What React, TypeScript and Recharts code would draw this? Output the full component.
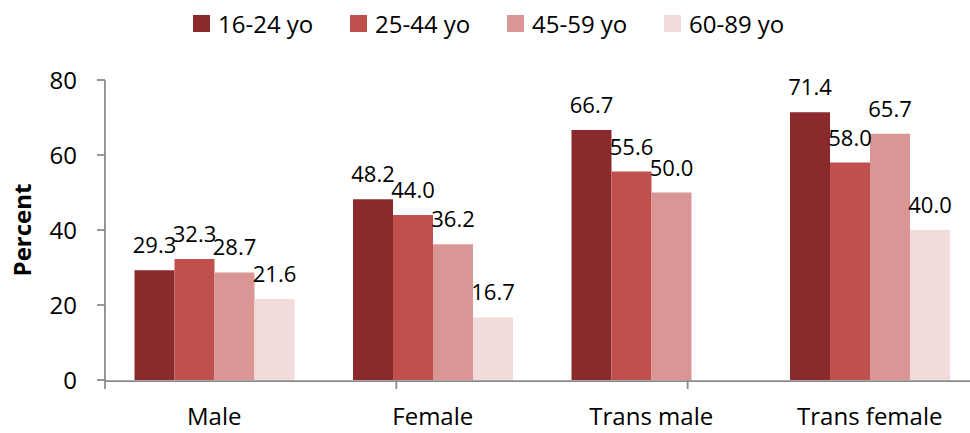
import React from 'react';
import { BarChart, Bar, XAxis, YAxis, Legend, LabelList } from 'recharts';

const categories = ['Male', 'Female', 'Trans male', 'Trans female'];
const age16to24 = [29.3, 48.2, 66.7, 71.4];
const age25to44 = [32.3, 44.0, 55.6, 58.0];
const age45to59 = [28.7, 36.2, 50.0, 65.7];
const age60to89: (number | null)[] = [21.6, 16.7, null, 40.0];
const seriesNames = ['16-24 yo', '25-44 yo', '45-59 yo', '60-89 yo'];
const yTicks = [0, 20, 40, 60, 80];
const boundaryTicks = [0, 1, 2, 3];

const colors = ['#8B2A2C', '#C0504D', '#D99694', '#F2DCDB'];
const FONT = '"Open Sans", sans-serif';
const AXIS = '#898989';

const data = categories.map((c, i) => ({
  name: c,
  s0: age16to24[i],
  s1: age25to44[i],
  s2: age45to59[i],
  s3: age60to89[i],
}));

const fmt = (v: any) => (v == null ? '' : Number(v).toFixed(1));

const LegendContent = () => (
  <div style={{ display: 'flex', justifyContent: 'flex-start', paddingLeft: 193, paddingTop: 15, fontFamily: FONT, fontSize: 24, color: '#000' }}>
    {seriesNames.map((n, i) => (
      <div key={n} style={{ display: 'flex', alignItems: 'center', width: 157, height: 17 }}>
        <div style={{ width: 17, height: 17, background: colors[i], marginRight: 8, flex: 'none' }} />
        <span style={{ lineHeight: '17px', whiteSpace: 'nowrap' }}>{n}</span>
      </div>
    ))}
  </div>
);

export default function App() {
  return (
    <div style={{ position: 'absolute', left: 0, top: 0, width: 970, height: 433, background: '#fff', overflow: 'hidden' }}>
      <BarChart
        width={970}
        height={433}
        data={data}
        margin={{ top: 40, right: -9, bottom: 22, left: 0 }}
        barCategoryGap="13.5%"
        barGap={0}
      >
        <Legend
          verticalAlign="top"
          align="left"
          content={<LegendContent />}
          wrapperStyle={{ top: 0, left: 0, width: 970, height: 40 }}
        />
        <YAxis
          domain={[0, 80]}
          ticks={yTicks}
          width={105}
          tickSize={8}
          tickMargin={20}
          axisLine={{ stroke: AXIS, strokeWidth: 1.75 }}
          tickLine={{ stroke: AXIS, strokeWidth: 1.75 }}
          tick={{ fill: '#000', fontSize: 24, fontFamily: FONT }}
          label={{ value: 'Percent', angle: -90, position: 'insideLeft', offset: 22, style: { fontSize: 24, fontWeight: 'bold', fill: '#000', fontFamily: FONT, textAnchor: 'middle' } }}
        />
        <XAxis
          xAxisId="bounds"
          type="number"
          domain={[0, 4]}
          ticks={boundaryTicks}
          interval={0}
          height={1}
          tickSize={9}
          tickFormatter={() => ''}
          axisLine={false}
          tickLine={{ stroke: AXIS, strokeWidth: 1.75 }}
        />
        <XAxis
          xAxisId="cat"
          dataKey="name"
          height={30}
          axisLine={{ stroke: AXIS, strokeWidth: 1.75 }}
          tickLine={false}
          tickMargin={21}
          tick={{ fill: '#000', fontSize: 24, fontFamily: FONT }}
        />
        {['s0', 's1', 's2', 's3'].map((k, i) => (
          <Bar key={k} xAxisId="cat" dataKey={k} name={seriesNames[i]} fill={colors[i]} isAnimationActive={false}>
            <LabelList dataKey={k} position="top" offset={17} formatter={fmt} style={{ fill: '#000', fontSize: 22, fontFamily: FONT }} />
          </Bar>
        ))}
      </BarChart>
    </div>
  );
}
